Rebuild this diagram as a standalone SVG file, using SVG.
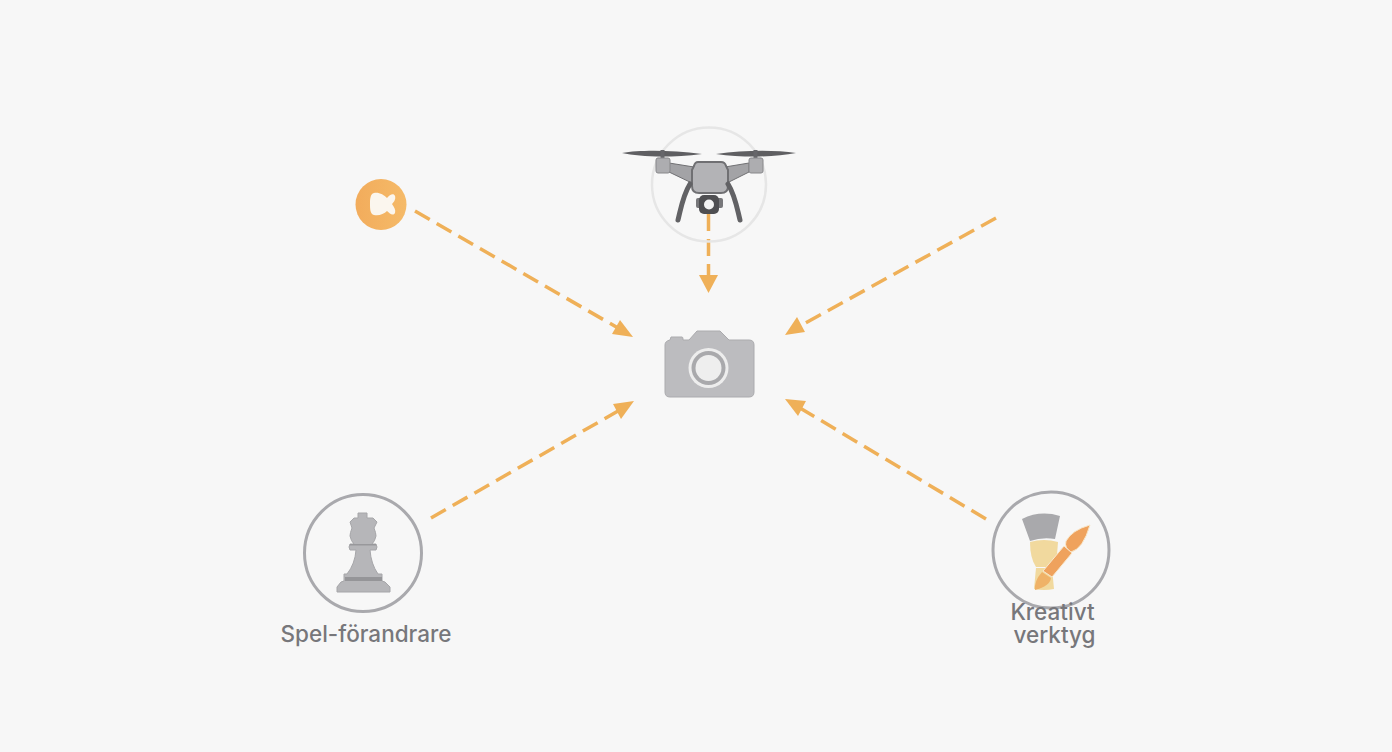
<svg xmlns="http://www.w3.org/2000/svg" width="1392" height="752" viewBox="0 0 1392 752">
<style>
.conn{fill:none;stroke:#efb058;stroke-width:3.500;stroke-dasharray:17 8}
.head{fill:#efb058}
.label{font-family:"Inter","Liberation Sans",sans-serif;font-size:22.500px;font-weight:500;fill:#77777b;text-anchor:middle}
.ring{fill:none;stroke:#a9a9ad;stroke-width:3}
.dk{fill:#5f5f62}
</style>
<defs>
<linearGradient id="og" x1="0" x2="1" y1="0" y2="0"><stop offset="0" stop-color="#f2ac5c"/><stop offset="1" stop-color="#f5ba68"/></linearGradient>
</defs>
<rect width="1392" height="752" fill="#f7f7f7"/>
<g id="connectors">
<path class="conn" d="M415 211L618 328"/><polygon class="head" points="633,337 612,334 620,320"/>
<path class="conn" d="M708.500 214V276"/><polygon class="head" points="708.500,293 699,275 718,275"/>
<path class="conn" d="M996 218L800 326"/><polygon class="head" points="785,335 797,317 805,332"/>
<path class="conn" d="M431 518L618 411"/><polygon class="head" points="634,401 621,419 613,404"/>
<path class="conn" d="M986 519L800 408"/><polygon class="head" points="785,399 806,401 798,416"/>
</g>
<g id="node-badge">
<circle cx="381" cy="204.500" r="25.500" fill="url(#og)"/>
<path d="M374 193C379 192 384 195 387 198C390 194 394 193 395 196C396 199 394 202 392 204C394 207 396 210 395 213C393 216 390 214 387 211C384 214 379 216 374 215C370 214 370 208 370 204C370 200 370 194 374 193Z" fill="#fbf6ee"/>
</g>
<g id="node-drone">
<circle cx="709" cy="184.500" r="57" fill="none" stroke="#e6e6e6" stroke-width="2.500"/>
<path class="dk" d="M622 153C640 150 670 150 702 154C670 158 640 157 622 153Z"/>
<path class="dk" d="M716 154C745 150 775 150 796 153C775 157 745 158 716 154Z"/>
<rect x="660.500" y="150" width="4" height="9" fill="#66666a"/><rect x="753.500" y="150" width="4" height="9" fill="#66666a"/>
<path d="M669 163L694 167L694 184L669 172Z" fill="#a3a3a6" stroke="#707073"/>
<path d="M749 163L725 167L725 184L749 172Z" fill="#a3a3a6" stroke="#707073"/>
<rect x="656" y="158" width="14" height="15" rx="2" fill="#adadb0" stroke="#88888b"/>
<rect x="749" y="158" width="14" height="15" rx="2" fill="#adadb0" stroke="#88888b"/>
<path d="M698 162H721Q725 162 726 166L728 170V186Q728 193 721 193H699Q692 193 692 186V170L694 166Q695 162 698 162Z" fill="#b3b3b6" stroke="#707073" stroke-width="2"/>
<path d="M690 184C683 195 681 208 678 220" fill="none" stroke="#626265" stroke-width="5" stroke-linecap="round"/>
<path d="M728 184C735 195 737 208 740 220" fill="none" stroke="#626265" stroke-width="5" stroke-linecap="round"/>
<rect x="696" y="198" width="27" height="10" rx="2" fill="#77777a"/>
<rect x="699" y="195" width="20" height="19" rx="5" fill="#4f4f52"/>
<circle cx="709" cy="204.500" r="5" fill="#f4f4f4"/>
</g>
<g id="node-camera">
<path d="M671 337H682Q683 337 683 339V340H689L697 331H720L729 340H749Q754 340 754 345V392Q754 397 749 397H670Q665 397 665 392V345Q665 341 670 340Z" fill="#bcbcbf" stroke="#ababae"/>
<circle cx="708.500" cy="368" r="20" fill="#ededed"/>
<circle cx="708.500" cy="368" r="17" fill="#a9a9ac"/>
<circle cx="708.500" cy="368" r="13" fill="#eeeeee"/>
</g>
<g id="node-chess">
<circle class="ring" cx="363" cy="553" r="58.500"/>
<path d="M358 513H367V518H373L377 522L374 528Q376 533 376 536Q375 541 372 544H376Q378 547 376 550H370Q371 564 378 574H382V581L385 582L390 587V592H337V587L341 582L344 581V574H347Q355 564 356 550H350Q348 547 350 544H354Q351 541 350 536Q350 533 352 528L350 522L354 518H358Z" fill="#b6b6b9" stroke="#a6a6a9"/>
<rect x="345" y="577" width="37" height="4" fill="#959598"/>
<rect x="350" y="544" width="26" height="1.500" fill="#98989b"/>
</g>
<text id="label-spel" class="label" x="366" y="642">Spel-förandrare</text>
<g id="node-brush">
<circle class="ring" cx="1051" cy="550" r="58"/>
<path d="M1022 519Q1040 510 1060 516L1055 539Q1042 537 1030 541Z" fill="#a9a9ac"/>
<path d="M1030 542Q1044 538 1058 542L1057 555L1047 567H1036Q1030 558 1030 542Z" fill="#f1d99e"/>
<path d="M1036 568H1052L1054 589Q1044 591 1034 589Z" fill="#f1d99e"/>
<path d="M1090 525Q1072 530 1066 541Q1064 548 1071 552Q1083 549 1090 525Z" fill="#efa25d" stroke="#f8e8cc" stroke-width="1"/>
<path d="M1064 546L1072 553L1052 577L1043 571Z" fill="#efa25d" stroke="#f8e8cc" stroke-width="1"/>
<path d="M1042 572L1051 578Q1050 586 1035 590Q1034 581 1042 572Z" fill="#efb267"/>
</g>
<g id="label-kreativt">
<text class="label" x="1052.500" y="620">Kreativt</text>
<text class="label" x="1054.500" y="643">verktyg</text>
</g>
</svg>
